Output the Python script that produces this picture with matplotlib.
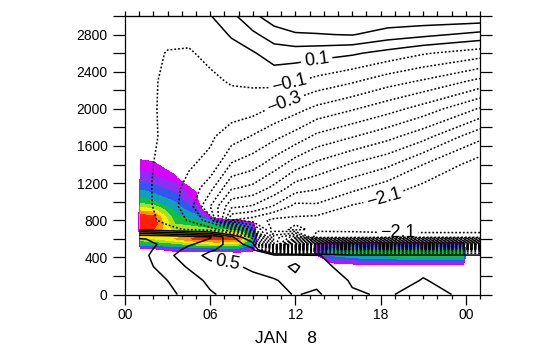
import numpy as np
import matplotlib
matplotlib.use("Agg")
import matplotlib.pyplot as plt
from matplotlib.ticker import NullFormatter

plt.rcParams['font.family'] = ['Liberation Sans', 'DejaVu Sans']

# main field (contour lines)
hours = [1, 1.5, 3, 4.5, 6, 7.5, 9, 10.5, 12, 13.5, 16, 18.5, 21, 25]
heights = [0, 150, 300, 420, 480, 540, 620, 700, 800, 950, 1150, 1400,
           1700, 2000, 2300, 2600, 2800, 3000]
field = [
    [1.3, 1.15, 0.95, 0.84, 0.72, 0.65, 0.6, 0.55, 0.49, 0.53, 0.32, 0.28, 0.38, 0.22],
    [1.15, 1.05, 0.9, 0.78, 0.66, 0.6, 0.55, 0.51, 0.46, 0.45, 0.28, 0.22, 0.31, 0.2],
    [1.0, 0.95, 0.8, 0.68, 0.56, 0.53, 0.47, 0.44, 0.53, 0.38, 0.2, 0.2, 0.26, 0.2],
    [0.94, 0.92, 0.75, 0.58, 0.45, 0.42, 0.4, 0.38, 0.42, 0.32, 0.15, 0.15, 0.15, 0.15],
    [0.96, 0.94, 0.8, 0.64, 0.52, 0.44, 0.35, -0.6, -1.0, -0.5, -0.5, -0.5, -0.5, -0.5],
    [0.97, 0.95, 0.85, 0.72, 0.62, 0.42, 0.2, -2.5, -4.4, -4.4, -4.4, -4.4, -4.4, -4.4],
    [0.88, 0.88, 0.85, 0.78, 0.72, 0.35, -0.2, -2.6, -3.0, -1.95, -1.95, -2.0, -2.0, -2.0],
    [0.04, 0.03, -0.05, -0.12, -0.2, -0.5, -1.4, -2.2, -2.05, -2.15, -2.16, -2.17, -2.17, -2.17],
    [-0.05, -0.05, -0.15, -0.32, -0.6, -1.9, -2.0, -2.15, -2.15, -2.18, -2.2, -2.2, -2.2, -2.22],
    [-0.05, -0.06, -0.2, -0.4, -0.9, -1.45, -1.52, -1.72, -1.96, -1.94, -2.12, -2.2, -2.22, -2.25],
    [-0.05, -0.06, -0.22, -0.35, -0.63, -1.07, -1.15, -1.35, -1.6, -1.67, -1.84, -2.0, -2.15, -2.25],
    [-0.04, -0.05, -0.2, -0.28, -0.35, -0.72, -0.82, -1.0, -1.21, -1.35, -1.52, -1.66, -1.9, -2.2],
    [-0.03, -0.04, -0.15, -0.22, -0.27, -0.4, -0.52, -0.65, -0.78, -0.95, -1.09, -1.24, -1.43, -1.85],
    [-0.03, -0.04, -0.16, -0.22, -0.2, -0.2, -0.22, -0.33, -0.43, -0.55, -0.68, -0.82, -0.98, -1.32],
    [-0.03, -0.04, -0.15, -0.2, -0.14, -0.08, -0.06, -0.03, -0.08, -0.16, -0.27, -0.41, -0.52, -0.75],
    [-0.03, -0.04, -0.11, -0.12, -0.05, 0.02, 0.08, 0.2, 0.2, 0.18, 0.13, 0.03, -0.08, -0.2],
    [-0.02, -0.02, -0.05, -0.05, 0.0, 0.12, 0.26, 0.4, 0.48, 0.49, 0.51, 0.41, 0.35, 0.24],
    [0.0, 0.0, 0.0, 0.02, 0.09, 0.25, 0.45, 0.62, 0.66, 0.66, 0.66, 0.66, 0.66, 0.66],
]

# shaded field (colour fill)
cloud_hours = [0.9, 1.1, 2, 3.5, 5, 6.5, 8, 9, 9.6, 12.8, 13.4, 14.5, 17, 20, 23.8, 24.2]
cloud_heights = [280, 330, 400, 460, 500, 540, 600, 650, 700, 760, 840, 920,
                 1000, 1100, 1250, 1400, 1560]
cloud = [
    [-.5, -.5, -.5, -.5, -.5, -.5, -.5, -.5, -.5, -.5, -.5, -.5, -.3, -.3, -.3, -.5],
    [-.5, -.5, -.5, -.5, -.5, -.5, -.5, -.5, -.5, -.5, -.4, 0.0, 0.1, 0.1, 0.12, -.5],
    [-.5, -.5, -.5, -.5, -.5, -.5, -.5, -.5, -.5, -.5, -.1, 0.3, 0.4, 0.45, 0.48, -.5],
    [-.5, -.3, -.3, 0.02, 0.05, 0.05, 0.08, 0.03, -.5, -.5, 0.15, 0.45, 0.5, 0.55, 0.55, -.5],
    [-.5, 0.1, 0.12, 0.25, 0.3, 0.35, 0.35, 0.2, -.5, -.5, 0.15, 0.35, 0.38, 0.38, 0.38, -.5],
    [-.5, 0.42, 0.45, 0.5, 0.6, 0.65, 0.6, 0.35, -.5, -.5, 0.1, 0.2, 0.2, 0.2, 0.2, -.5],
    [-.5, 0.62, 0.65, 0.75, 0.88, 0.9, 0.85, 0.45, -.5, -.5, -.3, -.3, -.3, -.3, -.3, -.5],
    [-.5, 0.72, 0.72, 0.65, 0.75, 0.8, 0.7, 0.4, -.5, -.5, -.5, -.5, -.5, -.5, -.5, -.5],
    [-.5, 0.85, 0.85, 0.6, 0.6, 0.55, 0.5, 0.3, -.5, -.5, -.5, -.5, -.5, -.5, -.5, -.5],
    [-.5, 0.92, 0.92, 0.55, 0.5, 0.42, 0.35, 0.15, -.5, -.5, -.5, -.5, -.5, -.5, -.5, -.5],
    [-.5, 0.9, 0.88, 0.48, 0.38, -0.1, -0.2, -0.3, -.5, -.5, -.5, -.5, -.5, -.5, -.5, -.5],
    [-.5, 0.7, 0.66, 0.42, 0.25, -.5, -.5, -.5, -.5, -.5, -.5, -.5, -.5, -.5, -.5, -.5],
    [-.5, 0.5, 0.46, 0.35, 0.12, -.5, -.5, -.5, -.5, -.5, -.5, -.5, -.5, -.5, -.5, -.5],
    [-.5, 0.38, 0.34, 0.25, 0.06, -.5, -.5, -.5, -.5, -.5, -.5, -.5, -.5, -.5, -.5, -.5],
    [-.5, 0.2, 0.18, 0.1, -0.3, -.5, -.5, -.5, -.5, -.5, -.5, -.5, -.5, -.5, -.5, -.5],
    [-.5, 0.1, 0.09, -0.1, -.5, -.5, -.5, -.5, -.5, -.5, -.5, -.5, -.5, -.5, -.5, -.5],
    [-.5, -0.06, -0.12, -.5, -.5, -.5, -.5, -.5, -.5, -.5, -.5, -.5, -.5, -.5, -.5, -.5],
]

cloud_levels = [0.05, 0.15, 0.25, 0.35, 0.45, 0.55, 0.65, 0.75, 0.85, 1.0]
cloud_colors = ['#d800ff', '#8a30f0', '#3058f0', '#10a0b8', '#10c040',
                '#a8e020', '#f8f000', '#ff9000', '#ff2000']

# where the line labels sit (hours, metres)
label_spots = [(13.5, 2518), (11.6, 2269), (11.2, 2074), (18.2, 1056), (19.2, 666), (7.2, 300)]

fig = plt.figure(figsize=(5.41, 3.45), dpi=100)
ax = fig.add_axes([125 / 541, 1 - 294.5 / 345, 355 / 541, 278.5 / 345])

ax.contourf(cloud_hours, cloud_heights, np.array(cloud), levels=cloud_levels,
            colors=cloud_colors, zorder=1)

levels = np.round(np.arange(-4.3, 1.0, 0.2), 1)
styles = ['solid' if l > 0 else (0, (1.2, 1.3)) for l in levels]
cs = ax.contour(hours, heights, np.array(field), levels=levels, colors='k',
                linewidths=1.1, linestyles=styles, zorder=2)

ax.clabel(cs, manual=label_spots, fontsize=13, inline=True, inline_spacing=4,
          fmt=lambda v: f'{v:.1f}'.replace('-', '\u2212'))

ax.set_xlim(0, 25)
ax.set_ylim(0, 3000)
ax.set_xticks([0, 6, 12, 18, 24])
ax.set_xticklabels(['00', '06', '12', '18', '00'])
ax.set_xticks(range(0, 26), minor=True)
ax.set_yticks(range(0, 2801, 400))
ax.set_yticks(range(0, 3001, 200), minor=True)
ax.tick_params(axis='y', which='both', direction='out', length=8.5, width=0.9,
               right=True, labelsize=10, pad=4)
ax.tick_params(axis='x', which='major', direction='out', length=7.5, width=0.9,
               labelsize=10, pad=2)
ax.tick_params(axis='x', which='minor', direction='out', length=3, width=0.9)

top = ax.secondary_xaxis('top')
top.set_xticks(range(0, 26))
top.xaxis.set_major_formatter(NullFormatter())
top.tick_params(direction='out', length=3.5, width=0.9)

ax.set_xlabel('JAN    8', fontsize=12.5)
ax.xaxis.set_label_coords((286 - 125) / 355, -0.13)

for s in ax.spines.values():
    s.set_linewidth(0.9)

fig.savefig('out.png', dpi=100)
